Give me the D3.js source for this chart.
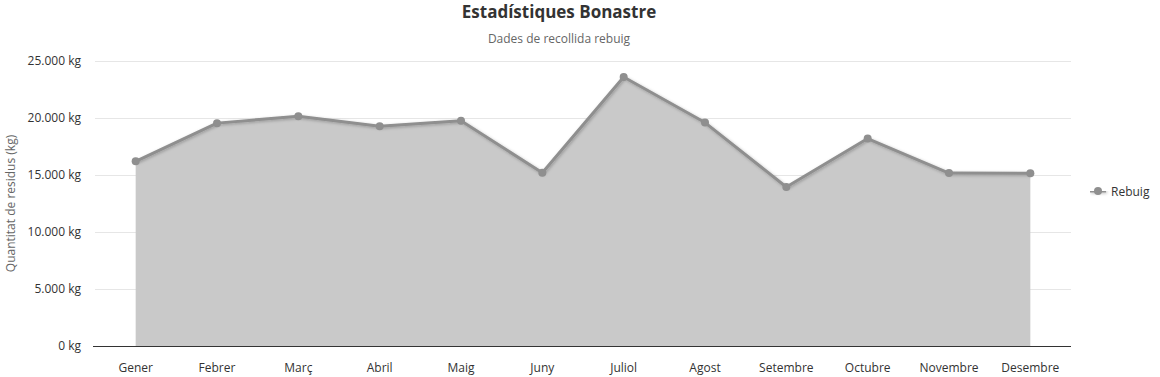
<!DOCTYPE html>
<html><head><meta charset="utf-8">
<script src="https://cdn.jsdelivr.net/npm/d3@7"></script>
<style>body{margin:0;background:#fff;font-family:"Open Sans","Noto Sans",sans-serif;}</style>
</head><body>
<svg id="c" width="1160" height="377"></svg>
<script>
const categories = ["Gener","Febrer","Març","Abril","Maig","Juny","Juliol","Agost","Setembre","Octubre","Novembre","Desembre"];
const rebuig = [16200,19550,20150,19270,19750,15200,23600,19600,13950,18200,15170,15150];
const yTicks = [0,5000,10000,15000,20000,25000];
const seriesName = "Rebuig";

const svg = d3.select("#c");
const m = {l:95, r:1071, t:61, b:346};
const x = d3.scaleBand().domain(categories).range([m.l, m.r]);
const y = d3.scaleLinear().domain([0,25000]).range([m.b, m.t]);
const fmt = v => d3.format(",")(v).replace(/,/g,".") + " kg";

const defs = svg.append("defs");
const f = defs.append("filter").attr("id","sh").attr("filterUnits","userSpaceOnUse")
  .attr("x",0).attr("y",0).attr("width",1160).attr("height",377);
f.append("feDropShadow").attr("dx",1).attr("dy",1).attr("stdDeviation",1.5).attr("flood-color","#000").attr("flood-opacity",0.25);

// grid
svg.append("g").selectAll("line").data(yTicks.filter(d=>d>0)).join("line")
  .attr("x1",m.l).attr("x2",m.r).attr("y1",d=>y(d)+0.5).attr("y2",d=>y(d)+0.5)
  .attr("stroke","#e6e6e6").attr("stroke-width",1);

const cx = d => x(d) + x.bandwidth()/2;
const data = categories.map((c,i)=>({c, v:rebuig[i]}));

svg.append("path").datum(data)
  .attr("d", d3.area().x(d=>cx(d.c)).y0(y(0)).y1(d=>y(d.v)))
  .attr("fill","#c9c9c9");

svg.append("path").datum(data)
  .attr("d", d3.line().x(d=>cx(d.c)).y(d=>y(d.v)))
  .attr("fill","none").attr("stroke","#8f8f8f").attr("stroke-width",3)
  .attr("stroke-linejoin","round").attr("filter","url(#sh)");

svg.append("g").selectAll("circle").data(data).join("circle")
  .attr("cx",d=>cx(d.c)).attr("cy",d=>y(d.v)).attr("r",4).attr("fill","#8f8f8f");

// x axis
const xa = svg.append("g").attr("transform",`translate(0,${m.b+0.5})`)
  .call(d3.axisBottom(x).tickSize(0).tickPadding(17));
xa.select(".domain").attr("stroke","#333").attr("d",`M${m.l-2},0H${m.r}`);
xa.selectAll("text").attr("font-family","'Open Sans','Noto Sans',sans-serif").attr("font-size",12).attr("fill","#333");

// y axis
const ya = svg.append("g").attr("transform",`translate(${m.l-14},0)`)
  .call(d3.axisLeft(y).tickValues(yTicks).tickFormat(fmt).tickSize(0).tickPadding(0));
ya.select(".domain").remove();
ya.selectAll("text").attr("font-family","'Open Sans','Noto Sans',sans-serif").attr("font-size",12).attr("fill","#333");

svg.append("text").attr("transform",`translate(15,${(m.t+m.b)/2}) rotate(-90)`)
  .attr("text-anchor","middle").attr("font-size",12).attr("fill","#666").text("Quantitat de residus (kg)");

svg.append("text").attr("x",559).attr("y",18).attr("text-anchor","middle")
  .attr("font-size",17).attr("font-weight","bold").attr("fill","#333").text("Estadístiques Bonastre");
svg.append("text").attr("x",559).attr("y",43).attr("text-anchor","middle")
  .attr("font-size",12).attr("fill","#666").text("Dades de recollida rebuig");

// legend
const lg = svg.append("g").attr("transform","translate(1090,191)");
lg.append("line").attr("x1",0).attr("x2",16).attr("y1",0).attr("y2",0).attr("stroke","#8f8f8f").attr("stroke-width",3).attr("filter","url(#sh)");
lg.append("circle").attr("cx",8).attr("cy",0).attr("r",4).attr("fill","#8f8f8f");
lg.append("text").attr("x",21).attr("y",4.5).attr("font-size",12).attr("fill","#333").text(seriesName);
</script>
</body></html>
